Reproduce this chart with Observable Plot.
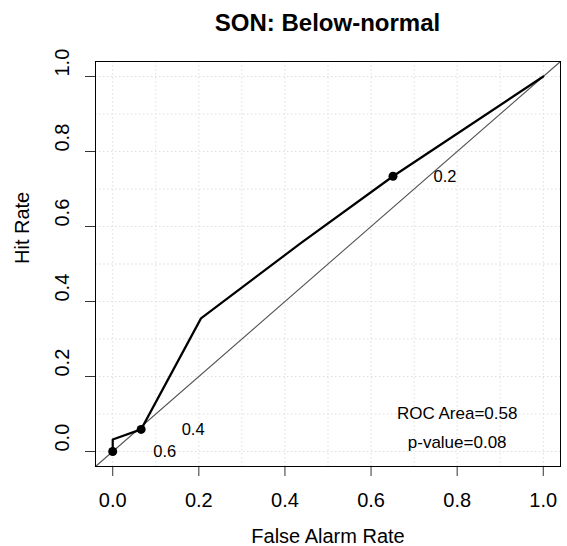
<!DOCTYPE html>
<html><head><meta charset="utf-8">
<script src="https://cdn.jsdelivr.net/npm/d3@7"></script>
<script src="https://cdn.jsdelivr.net/npm/@observablehq/plot@0.6"></script>
<style>
body{margin:0;background:#fff;}
#title{box-sizing:border-box;height:50px;padding-top:11px;margin-left:95px;width:465px;text-align:center;font-family:"Liberation Sans",Arial,sans-serif;font-weight:bold;font-size:24px;line-height:24px;color:#000;}
</style></head><body>
<div id="title">SON: Below-normal</div>
<div id="chart"></div>
<script>
const falseAlarmRate = [0, 0, 0.066, 0.205, 0.436, 0.651, 1];
const hitRate = [0, 0.032, 0.059, 0.355, 0.555, 0.734, 1];
const thresholdFar = [0, 0.066, 0.651];
const thresholdHit = [0, 0.059, 0.734];
const thresholdLabels = ["0.6", "0.4", "0.2"];
const axisTicks = [0, 0.2, 0.4, 0.6, 0.8, 1.0];
const axisTickLabels = ["0.0", "0.2", "0.4", "0.6", "0.8", "1.0"];
const gridTicks = [0, 0.1, 0.2, 0.3, 0.4, 0.5, 0.6, 0.7, 0.8, 0.9, 1.0];
const axisLimits = [-0.04, 1.04];
const statLines = ["ROC Area=0.58", "p-value=0.08"];
const statX = [0.8, 0.8];
const statY = [0.1, 0.025];

const roc = falseAlarmRate.map((f, i) => ({far: f, hit: hitRate[i]}));
const thr = thresholdFar.map((f, i) => ({far: f, hit: thresholdHit[i], label: thresholdLabels[i]}));
const stats = statLines.map((t, i) => ({x: statX[i], y: statY[i], text: t}));
const diag = axisLimits.map(v => ({v}));
const yTickData = axisTicks.map((t, i) => ({y: t, label: axisTickLabels[i]}));

const chart = Plot.plot({
  width: 567, height: 496,
  marginLeft: 95, marginRight: 7, marginTop: 11, marginBottom: 80,
  x: {domain: axisLimits},
  y: {domain: axisLimits},
  style: {fontFamily: "'Liberation Sans', Arial, sans-serif", fontSize: "20px", background: "white", color: "black", overflow: "visible"},
  marks: [
    Plot.gridX(gridTicks, {stroke: "#dedede", strokeOpacity: 1, strokeDasharray: "1.5,2.5"}),
    Plot.gridY(gridTicks, {stroke: "#dedede", strokeOpacity: 1, strokeDasharray: "1.5,2.5"}),
    Plot.line(diag, {x: "v", y: "v", stroke: "#555", strokeWidth: 1.1}),
    Plot.line(roc, {x: "far", y: "hit", stroke: "#000", strokeWidth: 2.2}),
    Plot.dot(thr, {x: "far", y: "hit", r: 4.5, fill: "#000", stroke: "none"}),
    Plot.text(thr, {x: "far", y: "hit", text: "label", dx: 52, fontSize: 16.5, fill: "#000"}),
    Plot.text(stats, {x: "x", y: "y", text: "text", fontSize: 17, fill: "#000"}),
    Plot.axisX(axisTicks, {tickSize: 10, tickPadding: 16, tickFormat: d => axisTickLabels[axisTicks.indexOf(d)], label: null, fontSize: 20, stroke: "#333"}),
    Plot.axisY(axisTicks, {tickSize: 10, tickFormat: () => "", label: null, stroke: "#333"}),
    Plot.text(yTickData, {y: "y", text: "label", frameAnchor: "left", dx: -32.5, rotate: -90, fontSize: 20, fill: "#000"}),
    Plot.text(["Hit Rate"], {text: d => d, frameAnchor: "left", dx: -73, rotate: -90, fontSize: 20, fill: "#000"}),
    Plot.text(["False Alarm Rate"], {text: d => d, frameAnchor: "bottom", dy: 76, fontSize: 20, fill: "#000"}),
    Plot.frame({stroke: "#000", strokeWidth: 1})
  ]
});
document.getElementById("chart").append(chart);
</script>
</body></html>
